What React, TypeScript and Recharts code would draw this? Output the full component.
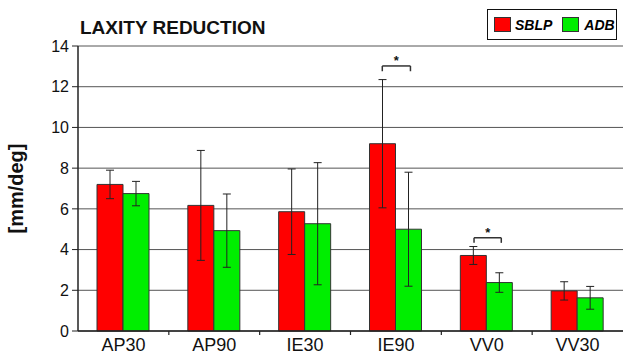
import React from 'react';
import {
  BarChart, Bar, XAxis, YAxis, CartesianGrid, ErrorBar, ReferenceLine, ReferenceDot,
} from 'recharts';

const categories = ['AP30', 'AP90', 'IE30', 'IE90', 'VV0', 'VV30'];
const sblpValues = [7.2, 6.17, 5.86, 9.2, 3.71, 1.97];
const sblpErrors = [0.7, 2.7, 2.1, 3.15, 0.44, 0.45];
const adbValues = [6.75, 4.93, 5.27, 5.0, 2.38, 1.63];
const adbErrors = [0.6, 1.8, 3.0, 2.8, 0.48, 0.56];
const yTicks = [0, 2, 4, 6, 8, 10, 12, 14];

// significance brackets: positions in category units (0..6) and value units
const sigBrackets = [
  { x1: 3.35, x2: 3.66, top: 13.02, foot: 12.76, star: 13.3 },
  { x1: 4.36, x2: 4.66, top: 4.58, foot: 4.33, star: 4.85 },
];

const data = categories.map((c, i) => ({
  name: c,
  sblp: sblpValues[i],
  sblpErr: sblpErrors[i],
  adb: adbValues[i],
  adbErr: adbErrors[i],
}));

const FONT = '"Liberation Sans", Arial, sans-serif';

const LegendBox = () => (
  <div
    style={{
      position: 'absolute', left: 487, top: 9, width: 130, height: 31,
      border: '1px solid #111', boxSizing: 'border-box', background: '#fff',
      display: 'flex', alignItems: 'center', fontFamily: FONT,
      fontWeight: 'bold', fontStyle: 'italic', fontSize: 14,
    }}
  >
    <span style={{ display: 'inline-block', width: 17, height: 15, background: '#ff0000', border: '1px solid #333', boxSizing: 'border-box', marginLeft: 6 }} />
    <span style={{ marginLeft: 4 }}>SBLP</span>
    <span style={{ display: 'inline-block', width: 17, height: 15, background: '#00ee00', border: '1px solid #333', boxSizing: 'border-box', marginLeft: 10 }} />
    <span style={{ marginLeft: 5 }}>ADB</span>
  </div>
);

const YLabel = (props: any) => {
  const vb = props.viewBox || { x: 0, y: 0, width: 0, height: 0 };
  const cy = vb.y + vb.height / 2;
  return (
    <text
      x={16}
      y={cy}
      transform={`rotate(-90, 16, ${cy})`}
      textAnchor="middle"
      dominantBaseline="central"
      style={{ fontFamily: FONT, fontWeight: 'bold', fontSize: 20, fill: '#111' }}
    >
      [mm/deg]
    </text>
  );
};

const CatTick = (props: any) => {
  const { x, y, payload, index, width, visibleTicksCount } = props;
  let half = payload && typeof payload.offset === 'number' && payload.offset > 0 ? payload.offset : 0;
  if (!half && width && visibleTicksCount) half = width / visibleTicksCount / 2;
  const bx = x - half;
  return (
    <g>
      {index > 0 && half > 0 && (
        <line x1={bx} x2={bx} y1={y} y2={y + 4} stroke="#222" strokeWidth={1.2} />
      )}
      <text
        x={x}
        y={y + 20}
        textAnchor="middle"
        fontFamily={FONT}
        fontSize={18}
        fill="#111"
      >
        {payload.value}
      </text>
    </g>
  );
};

const catPos = (d: any) => categories.indexOf(d.name) + 0.5;

export default function App() {
  return (
    <div style={{ position: 'absolute', left: 0, top: 0, width: 625, height: 360, background: '#fff' }}>
      <div
        style={{
          position: 'absolute', left: 80, top: 18, fontFamily: FONT, fontWeight: 'bold',
          fontSize: 19, lineHeight: '20px', color: '#111', whiteSpace: 'nowrap',
        }}
      >
        LAXITY REDUCTION
      </div>
      <LegendBox />
      <BarChart
        width={625}
        height={360}
        data={data}
        margin={{ top: 46, right: 2, left: 0, bottom: 0 }}
        barCategoryGap={19}
        barGap={0}
      >
        <CartesianGrid vertical={false} stroke="#555" strokeWidth={1} />
        <XAxis
          dataKey="name"
          tickLine={false}
          tickSize={0}
          tickMargin={0}
          axisLine={{ stroke: '#222', strokeWidth: 1.5 }}
          height={29}
          tick={<CatTick />}
          interval={0}
        />
        <XAxis
          xAxisId="b"
          type="number"
          dataKey={catPos}
          domain={[0, 6]}
          allowDataOverflow
          hide
        />
        <YAxis
          domain={[0, 14]}
          ticks={yTicks}
          width={78}
          tickSize={6}
          tickLine={{ stroke: '#222' }}
          axisLine={{ stroke: '#222', strokeWidth: 1.5 }}
          tick={{ fontFamily: FONT, fontSize: 16, fill: '#111' }}
          tickMargin={3}
          label={<YLabel />}
        />
        <Bar dataKey="sblp" fill="#ff0000" stroke="#333" strokeWidth={1} isAnimationActive={false}>
          <ErrorBar dataKey="sblpErr" width={4} stroke="#222" strokeWidth={1} />
        </Bar>
        <Bar dataKey="adb" fill="#00ee00" stroke="#333" strokeWidth={1} isAnimationActive={false}>
          <ErrorBar dataKey="adbErr" width={4} stroke="#222" strokeWidth={1} />
        </Bar>
        {sigBrackets.map((b, i) => (
          <ReferenceLine
            key={`h${i}`}
            xAxisId="b"
            segment={[{ x: b.x1, y: b.top }, { x: b.x2, y: b.top }]}
            stroke="#333"
            strokeWidth={1.5}
          />
        ))}
        {sigBrackets.map((b, i) => (
          <ReferenceLine
            key={`l${i}`}
            xAxisId="b"
            segment={[{ x: b.x1, y: b.top }, { x: b.x1, y: b.foot }]}
            stroke="#333"
            strokeWidth={1.5}
          />
        ))}
        {sigBrackets.map((b, i) => (
          <ReferenceLine
            key={`r${i}`}
            xAxisId="b"
            segment={[{ x: b.x2, y: b.top }, { x: b.x2, y: b.foot }]}
            stroke="#333"
            strokeWidth={1.5}
          />
        ))}
        {sigBrackets.map((b, i) => (
          <ReferenceDot
            key={`s${i}`}
            xAxisId="b"
            x={(b.x1 + b.x2) / 2}
            y={b.star}
            r={0}
            stroke="none"
            label={{ value: '*', position: 'center', style: { fontFamily: FONT, fontSize: 13, fontWeight: 'bold', fill: '#111' } }}
          />
        ))}
      </BarChart>
    </div>
  );
}
